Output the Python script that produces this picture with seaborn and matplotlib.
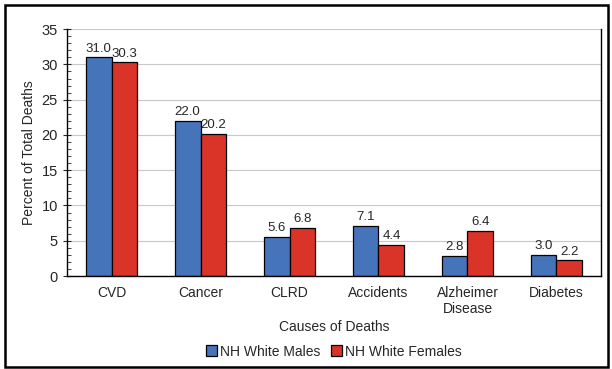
import numpy as np
import pandas as pd
import matplotlib
matplotlib.use("Agg")
import matplotlib.pyplot as plt
from matplotlib.patches import Rectangle
from matplotlib.ticker import MultipleLocator
import seaborn as sns

causas = ["CVD", "Cancer", "CLRD", "Accidents", "Alzheimer\nDisease", "Diabetes"]
hombres = [31.0, 22.0, 5.6, 7.1, 2.8, 3.0]
mujeres = [30.3, 20.2, 6.8, 4.4, 6.4, 2.2]
series = ["NH White Males", "NH White Females"]
colores = ["#4674BA", "#DA3328"]

df = pd.DataFrame({
    "Causa": causas * 2,
    "Valor": hombres + mujeres,
    "Grupo": [series[0]] * len(causas) + [series[1]] * len(causas),
})

sns.set_style("white")
plt.rcParams["font.family"] = ["Liberation Sans", "DejaVu Sans"]

fig = plt.figure(figsize=(6.12, 3.69), dpi=100)
ax = fig.add_axes([0.1095, 0.252, 0.8725, 0.669])

sns.barplot(data=df, x="Causa", y="Valor", hue="Grupo", palette=colores,
            saturation=1, width=0.58, edgecolor="black", linewidth=0.9, ax=ax)

for cont in ax.containers:
    ax.bar_label(cont, fmt="%.1f", fontsize=9.5, padding=2)

ax.set_ylim(0, 35)
ax.yaxis.set_major_locator(MultipleLocator(5))
ax.yaxis.set_minor_locator(MultipleLocator(1))
ax.tick_params(axis="y", which="major", direction="inout", length=6, width=0.8, labelsize=10.5, left=True)
ax.tick_params(axis="y", which="minor", direction="in", length=3, width=0.6, left=True)
ax.tick_params(axis="x", length=0, labelsize=10, pad=7)
ax.grid(axis="y", color="#C8C8C8", linewidth=0.8)
ax.set_axisbelow(True)
for s in ["left", "bottom", "right"]:
    ax.spines[s].set_color("black")
    ax.spines[s].set_linewidth(1.0)
ax.spines["top"].set_visible(False)

ax.set_xlabel("Causes of Deaths", fontsize=10, labelpad=3)
ax.set_ylabel("Percent of Total Deaths", fontsize=10, labelpad=4)

ax.legend(loc="upper center", bbox_to_anchor=(0.5, -0.255), ncol=2, frameon=False,
          fontsize=10, handlelength=0.8, handleheight=0.8, handletextpad=0.2,
          columnspacing=0.8, borderaxespad=0)

fig.patches.append(Rectangle((0.008, 0.006), 0.985, 0.98, transform=fig.transFigure,
                             fill=False, edgecolor="black", linewidth=1.8))

fig.savefig("out.png", dpi=100)
